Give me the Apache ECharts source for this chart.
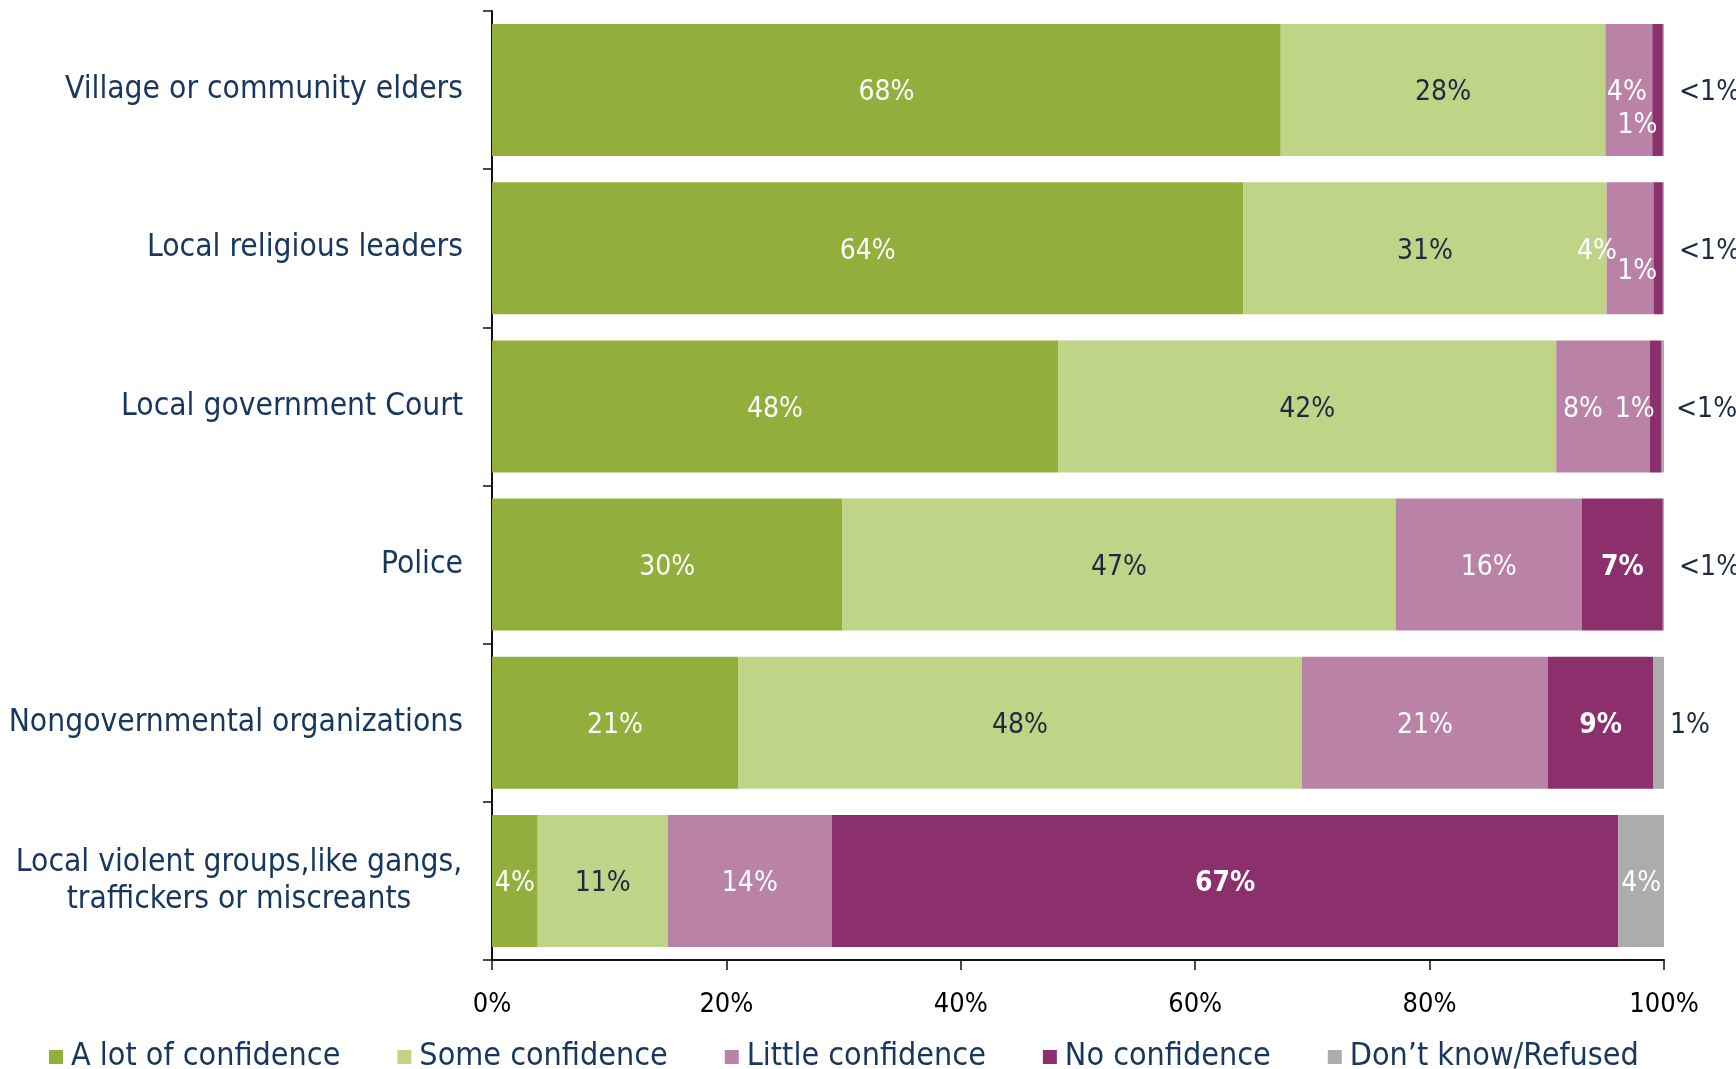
<!DOCTYPE html>
<html>
<head>
<meta charset="utf-8">
<script src="https://cdn.jsdelivr.net/npm/echarts@6/dist/echarts.min.js"></script>
<style>
  html, body { margin: 0; padding: 0; background: #fff; }
  #chart { width: 1736px; height: 1069px; }
</style>
</head>
<body>
<div id="chart"></div>
<script>
const categories = [
  'Village or community elders',
  'Local religious leaders',
  'Local government Court',
  'Police',
  'Nongovernmental organizations',
  'Local violent groups,like gangs,\ntraffickers or miscreants'
]
const seriesNames = ['A lot of confidence', 'Some confidence', 'Little confidence', 'No confidence', 'Don’t know/Refused']

// segment widths (percent)
const aLot = [67.3, 64.1, 48.3, 29.9, 21.0, 3.9]
const some = [27.7, 31.0, 42.5, 47.2, 48.1, 11.1]
const little = [4.0, 4.0, 8.0, 15.9, 21.0, 14.0]
const none = [0.9, 0.8, 1.0, 6.9, 9.0, 67.1]
const dontKnow = [0.1, 0.1, 0.2, 0.1, 0.9, 3.9]

// printed labels
const aLotLabels = ['68%', '64%', '48%', '30%', '21%', '4%']
const someLabels = ['28%', '31%', '42%', '47%', '48%', '11%']
const littleLabels = ['4%', '4%', '8%', '16%', '21%', '14%']
const noneLabels = ['1%', '1%', '1%', '7%', '9%', '67%']
const dontKnowLabels = ['<1%', '<1%', '<1%', '<1%', '1%', '4%']

const xTicks = [0, 20, 40, 60, 80, 100]

const FONT = '"DejaVu Sans Condensed", "DejaVu Sans", sans-serif'
const NAVY = '#17375E'
const DARK = '#1B2A41'
const colors = ['#92AE3C', '#BFD487', '#BA82A7', '#8B306C', '#ACACAC']

// label nudges for the thin segments (dx, dy in px)
const LABEL_DY = 3
const littleShift = { 0: [-2, 0], 1: [-33, 0], 2: [-20, 0] }
const noneShift = { 0: [-20, 33], 1: [-21, 20], 2: [-21, 0] }
const noneBold = { 3: { fontWeight: 'bold' }, 4: { fontWeight: 'bold' }, 5: { fontWeight: 'bold' } }
const dontKnowOutside = {
  0: { position: 'right', distance: 15, color: DARK },
  1: { position: 'right', distance: 15, color: DARK },
  2: { position: 'right', distance: 12, color: DARK },
  3: { position: 'right', distance: 15, color: DARK },
  4: { position: 'right', distance: 6, color: DARK }
}

function buildSeries(name, values, labels, color, labelColor, itemLabels, shift) {
  return {
    name,
    type: 'bar',
    stack: 'total',
    barCategoryGap: '16.5%',
    itemStyle: { color },
    label: {
      show: true,
      position: 'inside',
      color: labelColor,
      fontFamily: FONT,
      fontSize: 28,
      formatter: (p) => labels[p.dataIndex]
    },
    labelLayout: (p) => {
      const s = (shift && shift[p.dataIndex]) || [0, 0]
      return { dx: s[0], dy: s[1] + LABEL_DY }
    },
    data: values.map((v, i) => itemLabels && itemLabels[i] ? { value: v, label: itemLabels[i] } : v)
  }
}

const yData = categories.map((c, i) => i === categories.length - 1
  ? { value: c, textStyle: { align: 'center', padding: [0, 448, 0, 0], lineHeight: 37 } }
  : c)

const chart = echarts.init(document.getElementById('chart'))
chart.setOption({
  animation: false,
  backgroundColor: '#fff',
  color: colors,
  grid: { left: 492, right: 72, top: 11, bottom: 109, containLabel: false },
  legend: {
    data: seriesNames,
    left: 44,
    top: 1036,
    itemWidth: 14,
    itemHeight: 14,
    itemGap: 57,
    icon: 'rect',
    textStyle: { fontFamily: FONT, fontSize: 32, color: NAVY, padding: [0, 0, 0, 3] }
  },
  xAxis: {
    type: 'value',
    min: xTicks[0],
    max: xTicks[xTicks.length - 1],
    interval: 20,
    axisLine: { show: true, lineStyle: { color: '#111', width: 2 } },
    axisTick: { show: true, length: 10, lineStyle: { color: '#111', width: 1.5 } },
    splitLine: { show: false },
    axisLabel: { margin: 31, color: '#000', fontFamily: FONT, fontSize: 27, formatter: '{value}%' }
  },
  yAxis: {
    type: 'category',
    inverse: true,
    data: yData,
    axisLine: { show: true, lineStyle: { color: '#111', width: 2 } },
    axisTick: { show: true, length: 9, lineStyle: { color: '#111', width: 1.5 } },
    axisLabel: { interval: 0, margin: 29, color: NAVY, fontFamily: FONT, fontSize: 31.5 }
  },
  series: [
    buildSeries(seriesNames[0], aLot, aLotLabels, colors[0], '#fff'),
    buildSeries(seriesNames[1], some, someLabels, colors[1], DARK),
    buildSeries(seriesNames[2], little, littleLabels, colors[2], '#fff', null, littleShift),
    buildSeries(seriesNames[3], none, noneLabels, colors[3], '#fff', noneBold, noneShift),
    buildSeries(seriesNames[4], dontKnow, dontKnowLabels, colors[4], '#fff', dontKnowOutside)
  ]
})
</script>
</body>
</html>
